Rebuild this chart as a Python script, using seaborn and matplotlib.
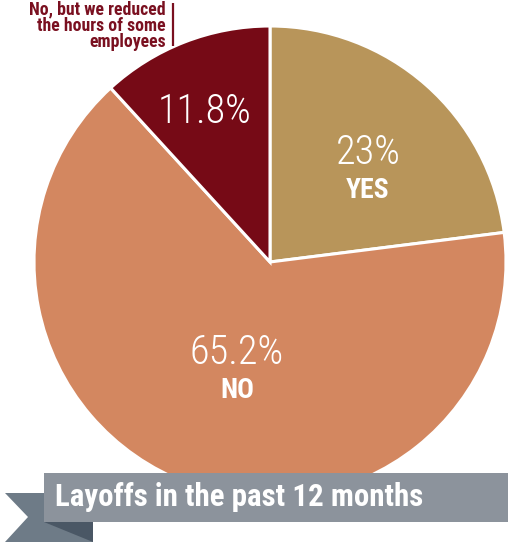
import matplotlib
matplotlib.use("Agg")
import matplotlib.pyplot as plt
from matplotlib.patches import Polygon, Rectangle
import seaborn as sns

# Survey answers: layoffs in the past 12 months
answers = ["YES", "NO", "No, but we reduced\nthe hours of some\nemployees"]
shares = [23.0, 65.2, 11.8]
pct_labels = ["23%", "65.2%", "11.8%"]
title = "Layoffs in the past 12 months"

colors = ["#B8955A", "#D38760", "#760A16"]

sns.set_theme(style="white")
NARROW = ["Liberation Sans Narrow", "Roboto Condensed", "DejaVu Sans"]
plt.rcParams["font.family"] = NARROW

W, H = 508, 544
fig = plt.figure(figsize=(W / 100, H / 100), dpi=100)
ax = fig.add_axes([0, 0, 1, 1])

cx, cy, r = 270, H - 262, 236
ax.pie(shares, colors=colors, startangle=90, counterclock=False,
       center=(cx, cy), radius=r, frame=True,
       wedgeprops=dict(edgecolor="white", linewidth=2.2))
ax.set_xlim(0, W)
ax.set_ylim(0, H)
ax.set_aspect("equal")
ax.axis("off")

# percentage labels inside the slices
pct_pos = [(368, H - 153), (237, H - 353), (205, H - 112)]
for (x, y), t in zip(pct_pos, pct_labels):
    ax.text(x, y, t, color="white", fontsize=29, ha="center", va="center",
            fontweight="light")
ax.text(368, H - 190, answers[0], color="white", fontsize=20,
        fontweight="bold", ha="center", va="center")
ax.text(237, H - 390, answers[1], color="white", fontsize=20,
        fontweight="bold", ha="center", va="center")

# callout for the small slice
ax.text(166, H - 26, answers[2], color="#7A1020", fontsize=12.8,
        fontweight="bold", ha="right", va="center", linespacing=0.88)
ax.plot([173, 173], [H - 3, H - 46], color="#7A1020", lw=1.6,
        solid_capstyle="butt")

# ribbon banner with folded tail
tail = Polygon([(5, H - 493), (93, H - 493), (93, H - 542), (5, H - 542),
                (28, H - 517)], closed=True, facecolor="#6E7B87",
               edgecolor="none", zorder=5)
fold = Polygon([(44, H - 522), (93, H - 522), (93, H - 542)], closed=True,
               facecolor="#4A5765", edgecolor="none", zorder=6)
band = Rectangle((44, H - 522), W - 44, 49, facecolor="#8C939C",
                 edgecolor="none", zorder=7)
for p in (tail, fold, band):
    ax.add_patch(p)
ax.text(55, H - 497, title, color="white", fontsize=22.2, fontweight="bold",
        ha="left", va="center", zorder=8)

fig.savefig("out.png", dpi=100)
